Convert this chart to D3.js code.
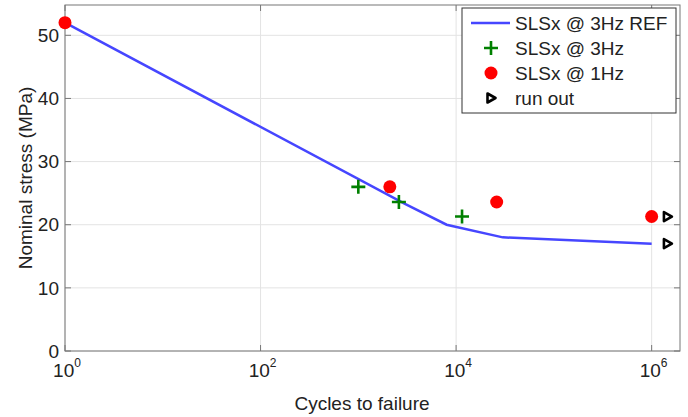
<!DOCTYPE html>
<html>
<head>
<meta charset="utf-8">
<script src="https://cdn.jsdelivr.net/npm/d3@7"></script>
<style>
  body { margin: 0; background: #fff; }
  svg { font-family: "Liberation Sans", Arial, sans-serif; }
</style>
</head>
<body>
<div class="chart"></div>
<script>
// data
const refCycles = [1, 3000, 8000, 30000, 1e6];
const refStress = [52, 23.3, 20, 18, 17];
const hz3Cycles = [1000, 2600, 11500];
const hz3Stress = [26, 23.6, 21.3];
const hz1Cycles = [1, 2100, 26000, 1e6];
const hz1Stress = [52, 26, 23.6, 21.3];
const runOutCycles = [1.45e6, 1.45e6];
const runOutStress = [21.3, 17];
const xTickExp = [0, 2, 4, 6];
const yTicks = [0, 10, 20, 30, 40, 50];
const legendLabels = ["SLSx @ 3Hz REF", "SLSx @ 3Hz", "SLSx @ 1Hz", "run out"];

const width = 688, height = 417;
const margin = { top: 5, right: 8, bottom: 66, left: 65 };
const innerWidth = width - margin.left - margin.right;
const innerHeight = height - margin.top - margin.bottom;
const fs = 19;

const svg = d3.select(".chart").append("svg")
    .attr("width", width).attr("height", height);
const g = svg.append("g").attr("transform", `translate(${margin.left},${margin.top})`);

const x = d3.scaleLog().domain([1, 1.95e6]).range([0, innerWidth]);
const y = d3.scaleLinear().domain([0, 54.8]).range([innerHeight, 0]);

// grid
g.selectAll(".gx").data(xTickExp).enter().append("line")
    .attr("x1", d => x(10 ** d)).attr("x2", d => x(10 ** d))
    .attr("y1", 0).attr("y2", innerHeight)
    .attr("stroke", "#e3e3e3");
g.selectAll(".gy").data(yTicks).enter().append("line")
    .attr("x1", 0).attr("x2", innerWidth)
    .attr("y1", d => y(d)).attr("y2", d => y(d))
    .attr("stroke", "#e3e3e3");

// axes box and ticks
g.append("rect").attr("width", innerWidth).attr("height", innerHeight)
    .attr("fill", "none").attr("stroke", "#777");
const tickLen = 6;
xTickExp.forEach(e => {
    const px = x(10 ** e);
    g.append("line").attr("x1", px).attr("x2", px).attr("y1", innerHeight).attr("y2", innerHeight - tickLen).attr("stroke", "#777");
    g.append("line").attr("x1", px).attr("x2", px).attr("y1", 0).attr("y2", tickLen).attr("stroke", "#777");
    const t = g.append("text").attr("x", px + 2).attr("y", innerHeight + 26)
        .attr("text-anchor", "middle").attr("font-size", fs).attr("fill", "#222");
    t.append("tspan").text("10");
    t.append("tspan").attr("dy", -10).attr("font-size", 12).text(e);
});
yTicks.forEach(v => {
    const py = y(v);
    g.append("line").attr("x1", 0).attr("x2", tickLen).attr("y1", py).attr("y2", py).attr("stroke", "#777");
    g.append("line").attr("x1", innerWidth).attr("x2", innerWidth - tickLen).attr("y1", py).attr("y2", py).attr("stroke", "#777");
    g.append("text").attr("x", -6).attr("y", py).attr("dy", "0.35em")
        .attr("text-anchor", "end").attr("font-size", fs).attr("fill", "#222").text(v);
});

// axis titles
svg.append("text").attr("x", 362).attr("y", 410)
    .attr("text-anchor", "middle").attr("font-size", fs).attr("fill", "#222").text("Cycles to failure");
svg.append("text").attr("transform", `translate(32,178) rotate(-90)`)
    .attr("text-anchor", "middle").attr("font-size", fs).attr("fill", "#222").text("Nominal stress (MPa)");

// reference line
const refData = refCycles.map((c, i) => [c, refStress[i]]);
g.append("path").datum(refData)
    .attr("d", d3.line().x(d => x(d[0])).y(d => y(d[1])))
    .attr("fill", "none").attr("stroke", "#4646ff").attr("stroke-width", 2.5);

// 3Hz crosses
const cross = (sel, s) => sel.append("path")
    .attr("d", `M${-s},0H${s}M0,${-s}V${s}`)
    .attr("stroke", "#008000").attr("stroke-width", 2.6);
hz3Cycles.forEach((c, i) => {
    cross(g.append("g").attr("transform", `translate(${x(c)},${y(hz3Stress[i])})`), 7);
});

// 1Hz circles
g.selectAll(".c1").data(hz1Cycles).enter().append("circle")
    .attr("cx", d => x(d)).attr("cy", (d, i) => y(hz1Stress[i]))
    .attr("r", 6.5).attr("fill", "#ff0000");

// run out triangles
const tri = (sel) => sel.append("path").attr("d", "M-3.5,-4.5L4.5,0L-3.5,4.5Z")
    .attr("fill", "none").attr("stroke", "#000").attr("stroke-width", 2.6).attr("stroke-linejoin", "round");
runOutCycles.forEach((c, i) => {
    tri(g.append("g").attr("transform", `translate(${x(c)},${y(runOutStress[i])})`));
});

// legend
const lg = svg.append("g").attr("transform", "translate(462,8)");
lg.append("rect").attr("width", 214).attr("height", 105).attr("fill", "#fff").attr("stroke", "#333");
legendLabels.forEach((lab, i) => {
    const ly = 15 + i * 25;
    const it = lg.append("g").attr("transform", `translate(29,${ly})`);
    if (i === 0) {
        it.append("line").attr("x1", -20).attr("x2", 19).attr("stroke", "#4646ff").attr("stroke-width", 2.5);
    } else if (i === 1) {
        cross(it, 7);
    } else if (i === 2) {
        it.append("circle").attr("r", 6.5).attr("fill", "#ff0000");
    } else {
        tri(it);
    }
    lg.append("text").attr("x", 53).attr("y", ly).attr("dy", "0.35em")
        .attr("font-size", fs).attr("fill", "#222").text(lab);
});
</script>
</body>
</html>
